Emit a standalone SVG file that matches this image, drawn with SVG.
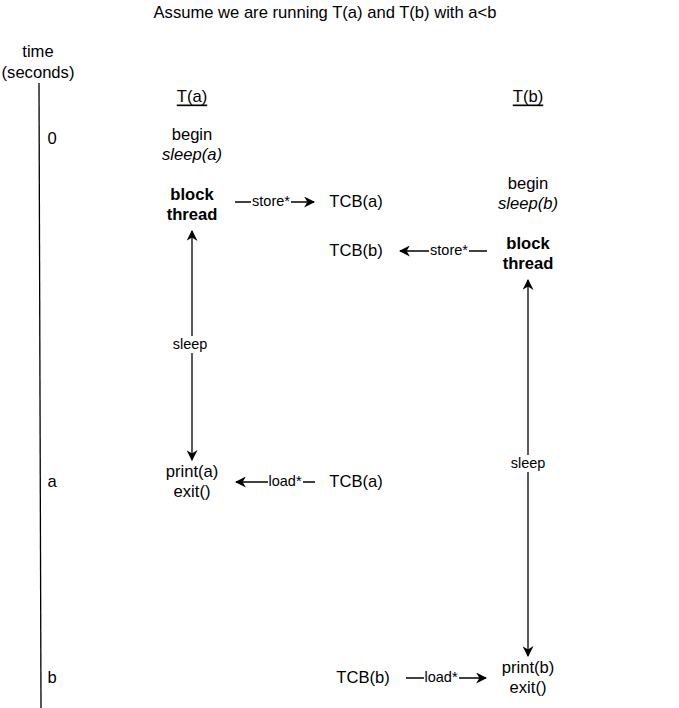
<svg xmlns="http://www.w3.org/2000/svg" width="679" height="708" viewBox="0 0 679 708">
<defs>
<style>
text{font-family:"Liberation Sans",Arial,sans-serif;font-size:16.6px;fill:#000;text-anchor:middle;dominant-baseline:central}
.b{font-weight:bold}
.i{font-style:italic}
.u{text-decoration:underline}
.lbl{font-size:14.5px}
.e{stroke:#000;stroke-width:1.3;fill:none}
.bg{fill:#fff}
</style>
<marker id="ah" viewBox="0 0 10 10" refX="9" refY="5" markerWidth="11" markerHeight="11" markerUnits="userSpaceOnUse" orient="auto-start-reverse">
<path d="M0,0 L10,5 L0,10 L3,5 Z" fill="#000"/>
</marker>
</defs>
<rect width="679" height="708" fill="#fff"/>
<g id="title"><text x="325" y="12">Assume we are running T(a) and T(b) with a&lt;b</text></g>
<g id="timeaxis">
<text x="38" y="51">time</text>
<text x="38" y="72">(seconds)</text>
<line x1="39" y1="83" x2="41" y2="708" stroke="#000" stroke-width="1.3"/>
<text x="52" y="138">0</text>
<text x="52" y="481">a</text>
<text x="52" y="677">b</text>
</g>
<g id="Ta"><text x="192" y="96" class="u">T(a)</text></g>
<g id="Tb"><text x="528" y="96" class="u">T(b)</text></g>
<g id="beginA"><text x="192" y="134">begin</text><text x="192" y="154" class="i">sleep(a)</text></g>
<g id="blockA"><text x="192" y="194" class="b">block</text><text x="192" y="214" class="b">thread</text></g>
<g id="tcbA1"><text x="356" y="201">TCB(a)</text></g>
<g id="beginB"><text x="528" y="183">begin</text><text x="528" y="203" class="i">sleep(b)</text></g>
<g id="blockB"><text x="528" y="243" class="b">block</text><text x="528" y="263" class="b">thread</text></g>
<g id="tcbB1"><text x="356" y="250">TCB(b)</text></g>
<g id="printA"><text x="192" y="471">print(a)</text><text x="192" y="491">exit()</text></g>
<g id="tcbA2"><text x="356" y="481">TCB(a)</text></g>
<g id="printB"><text x="528" y="667">print(b)</text><text x="528" y="687">exit()</text></g>
<g id="tcbB2"><text x="363" y="677">TCB(b)</text></g>
<g id="connectors">
<line class="e" x1="235" y1="202" x2="314" y2="202" marker-end="url(#ah)"/>
<rect class="bg" x="251" y="194" width="40" height="16"/>
<text class="lbl" x="271" y="201">store*</text>
<line class="e" x1="487" y1="251" x2="400" y2="251" marker-end="url(#ah)"/>
<rect class="bg" x="429" y="243" width="40" height="16"/>
<text class="lbl" x="449" y="250">store*</text>
<line class="e" x1="192" y1="231" x2="192" y2="460" marker-start="url(#ah)" marker-end="url(#ah)"/>
<rect class="bg" x="171" y="336" width="38" height="17"/>
<text class="lbl" x="190" y="344">sleep</text>
<line class="e" x1="315" y1="482" x2="236" y2="482" marker-end="url(#ah)"/>
<rect class="bg" x="268" y="474" width="35" height="16"/>
<text class="lbl" x="285" y="481">load*</text>
<line class="e" x1="528" y1="280" x2="528" y2="656" marker-start="url(#ah)" marker-end="url(#ah)"/>
<rect class="bg" x="509" y="455" width="38" height="17"/>
<text class="lbl" x="528" y="463">sleep</text>
<line class="e" x1="406" y1="678" x2="486" y2="678" marker-end="url(#ah)"/>
<rect class="bg" x="424" y="670" width="35" height="16"/>
<text class="lbl" x="441" y="677">load*</text>
</g>
</svg>
